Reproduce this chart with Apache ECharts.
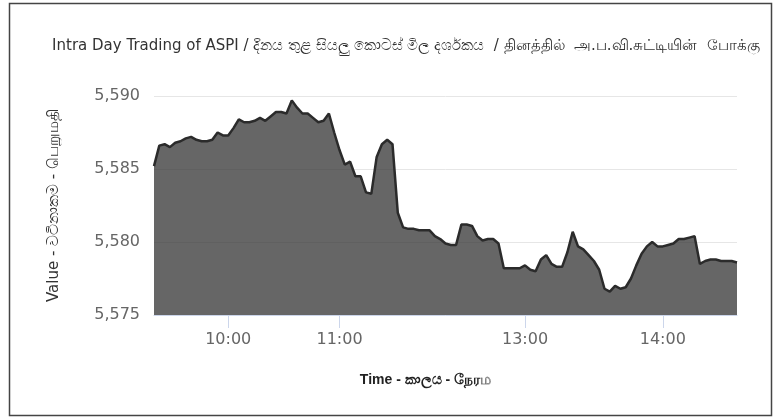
<!DOCTYPE html>
<html><head><meta charset="utf-8">
<script src="https://cdn.jsdelivr.net/npm/echarts/dist/echarts.min.js"></script>
<style>html,body{margin:0;padding:0;background:#fff}#c{width:781px;height:418px}</style>
</head><body><div id="c"></div>
<script>
const titleText = 'Intra Day Trading of ASPI / දිනය තුළ සියලු කොටස් මිල දර්ශකය  / தினத்தில்  அ.ப.வி.சுட்டியின்  போக்கு';
const xName = 'Time - කාලය - நேரம';
const yName = 'Value - වටිනාකම - பெறுமதி';
const hourLabels = ['10:00', '11:00', '13:00', '14:00'];
const yMin = 5575, yMax = 5590, yStep = 5;
const times = [
 '09:30','09:32','09:34','09:36','09:38','09:40','09:42','09:44','09:47','09:49','09:51','09:53','09:55','09:58','10:00',
 '10:03','10:06','10:09','10:12','10:15','10:17','10:20','10:23','10:26','10:29','10:32','10:35','10:37','10:40','10:43','10:46','10:49','10:52','10:54','10:57','11:00',
 '11:03','11:07','11:10','11:14','11:17','11:21','11:24','11:28','11:31','11:35','11:38','11:42','11:45','11:48','11:52','11:55','11:59','12:02','12:06','12:09','12:13','12:16','12:20','12:23','12:27','12:30','12:34','12:37','12:41','12:44','12:48','12:51','12:54','12:57','13:00',
 '13:02','13:05','13:07','13:09','13:12','13:14','13:16','13:18','13:21','13:23','13:25','13:28','13:30','13:32','13:35','13:37','13:39','13:42','13:44','13:46','13:48','13:51','13:53','13:55','13:58','14:00',
 '14:02','14:04','14:06','14:08','14:11','14:13','14:15','14:17','14:19','14:21','14:23','14:25','14:27','14:30'
];
const aspi = [
 5585.2,5586.6,5586.7,5586.5,5586.8,5586.9,5587.1,5587.2,5587.0,5586.9,5586.9,5587.0,5587.5,5587.3,5587.3,
 5587.8,5588.4,5588.2,5588.2,5588.3,5588.5,5588.3,5588.6,5588.9,5588.9,5588.8,5589.7,5589.2,5588.8,5588.8,5588.5,5588.2,5588.3,5588.8,5587.5,5586.3,
 5585.3,5585.5,5584.5,5584.5,5583.4,5583.3,5585.8,5586.7,5587.0,5586.7,5582.0,5581.0,5580.9,5580.9,5580.8,5580.8,5580.8,5580.4,5580.2,5579.9,5579.8,5579.8,5581.2,5581.2,5581.1,5580.4,5580.1,5580.2,5580.2,5579.9,5578.2,5578.2,5578.2,5578.2,5578.4,
 5578.1,5578.0,5578.8,5579.1,5578.5,5578.3,5578.3,5579.3,5580.7,5579.7,5579.5,5579.1,5578.7,5578.1,5576.8,5576.6,5577.0,5576.8,5576.9,5577.5,5578.4,5579.2,5579.7,5580.0,5579.7,5579.7,
 5579.8,5579.9,5580.2,5580.2,5580.3,5580.4,5578.5,5578.7,5578.8,5578.8,5578.7,5578.7,5578.7,5578.6
];
const isHour = (i, v) => hourLabels.indexOf(v) >= 0;
const fmt = v => String(v).replace(/\B(?=(\d{3})+(?!\d))/g, ',');
const chart = echarts.init(document.getElementById('c'));
chart.setOption({
  animation: false,
  backgroundColor: '#fff',
  title: {
    text: titleText, left: 401, top: 34, textAlign: 'center',
    textStyle: {fontFamily: 'DejaVu Sans', fontSize: 15, fontWeight: 'normal', color: '#333'}
  },
  graphic: [{
    type: 'rect', silent: true, z: 100,
    shape: {x: 9.5, y: 3.5, width: 762, height: 412},
    style: {fill: 'none', stroke: '#444', lineWidth: 1.5}
  }],
  grid: {left: 154, right: 44, top: 96, bottom: 103},
  xAxis: {
    type: 'category', data: times, boundaryGap: false,
    name: xName, nameLocation: 'middle', nameGap: 58,
    nameTextStyle: {fontFamily: 'Liberation Sans', fontSize: 14, fontWeight: 'bold', color: '#222', padding: [0, 40, 0, 0]},
    axisLine: {lineStyle: {color: '#ccd6eb', width: 1}},
    axisTick: {show: true, interval: isHour, length: 13, lineStyle: {color: '#ccd6eb'}},
    axisLabel: {interval: isHour, margin: 17, fontFamily: 'DejaVu Sans', fontSize: 16, color: '#666'},
    splitLine: {show: false}
  },
  yAxis: {
    type: 'value', min: yMin, max: yMax, interval: yStep,
    name: yName, nameLocation: 'middle', nameGap: 92, nameRotate: 90,
    nameTextStyle: {fontFamily: 'DejaVu Sans', fontSize: 15, color: '#333'},
    axisLine: {show: false}, axisTick: {show: false},
    axisLabel: {formatter: fmt, margin: 14, fontFamily: 'DejaVu Sans', fontSize: 16, color: '#666'},
    splitLine: {lineStyle: {color: '#e6e6e6', width: 1}}
  },
  series: [{
    type: 'line', data: aspi, symbol: 'none', smooth: false,
    lineStyle: {color: '#2b2b2b', width: 2.5},
    areaStyle: {color: '#333', opacity: 0.75, origin: 'start'}
  }]
});
</script></body></html>
